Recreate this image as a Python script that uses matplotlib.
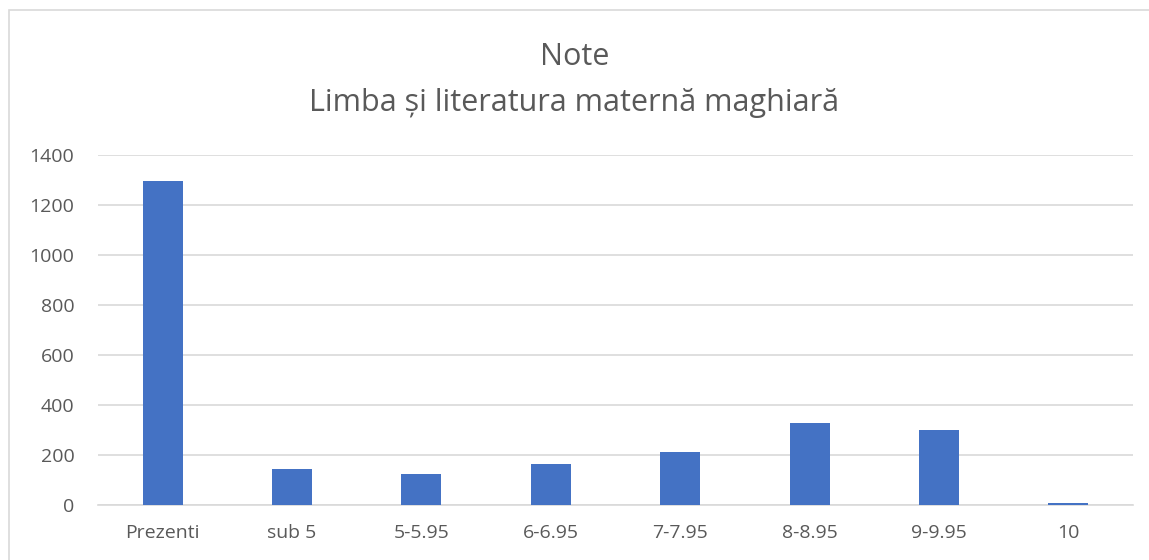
import matplotlib
matplotlib.use("Agg")
import matplotlib.pyplot as plt
from matplotlib.patches import Rectangle

categories = ["Prezenti", "sub 5", "5-5.95", "6-6.95", "7-7.95", "8-8.95", "9-9.95", "10"]
values = [1298, 146, 126, 166, 211, 329, 300, 8]
yticks = [0, 200, 400, 600, 800, 1000, 1200, 1400]
title_lines = ["Note", "Limba și literatura maternă maghiară"]

W, H = 1149, 560
fig = plt.figure(figsize=(W / 100, H / 100), dpi=100)
plt.rcParams['font.family'] = ['Open Sans', 'DejaVu Sans']

# chart border
fig.patches.append(Rectangle((9 / W, 0 - 10 / H), 1.2, (H - 10) / H + 10 / H,
                             transform=fig.transFigure, fill=False,
                             edgecolor="#d9d9d9", linewidth=1.2))

left, right = 98 / W, 1133 / W
bottom, top = 1 - 505 / H, 1 - 155 / H
ax = fig.add_axes([left, bottom, right - left, top - bottom])

x = list(range(len(categories)))
ax.bar(x, values, width=0.31, color="#4472c4", zorder=3)
ax.set_xlim(-0.5, len(categories) - 0.5)
ax.set_ylim(0, 1400)
ax.set_yticks(yticks)
ax.set_yticklabels([str(v) for v in yticks])
ax.set_xticks(x)
ax.set_xticklabels(categories)
ax.grid(axis="y", color="#d9d9d9", linewidth=1.2, zorder=0)
ax.set_axisbelow(True)
for s in ["top", "right", "left"]:
    ax.spines[s].set_visible(False)
ax.spines["bottom"].set_color("#d9d9d9")
ax.spines["bottom"].set_linewidth(1.2)
ax.tick_params(axis="both", length=0, colors="#595959", labelsize=14)
ax.tick_params(axis="y", pad=17)
ax.tick_params(axis="x", pad=14)

fig.text(0.5, 1 - 57 / H, title_lines[0], ha="center", va="center",
         fontsize=22, color="#595959")
fig.text(0.5, 1 - 103 / H, title_lines[1], ha="center", va="center",
         fontsize=22, color="#595959")

fig.savefig("out.png", dpi=100)
